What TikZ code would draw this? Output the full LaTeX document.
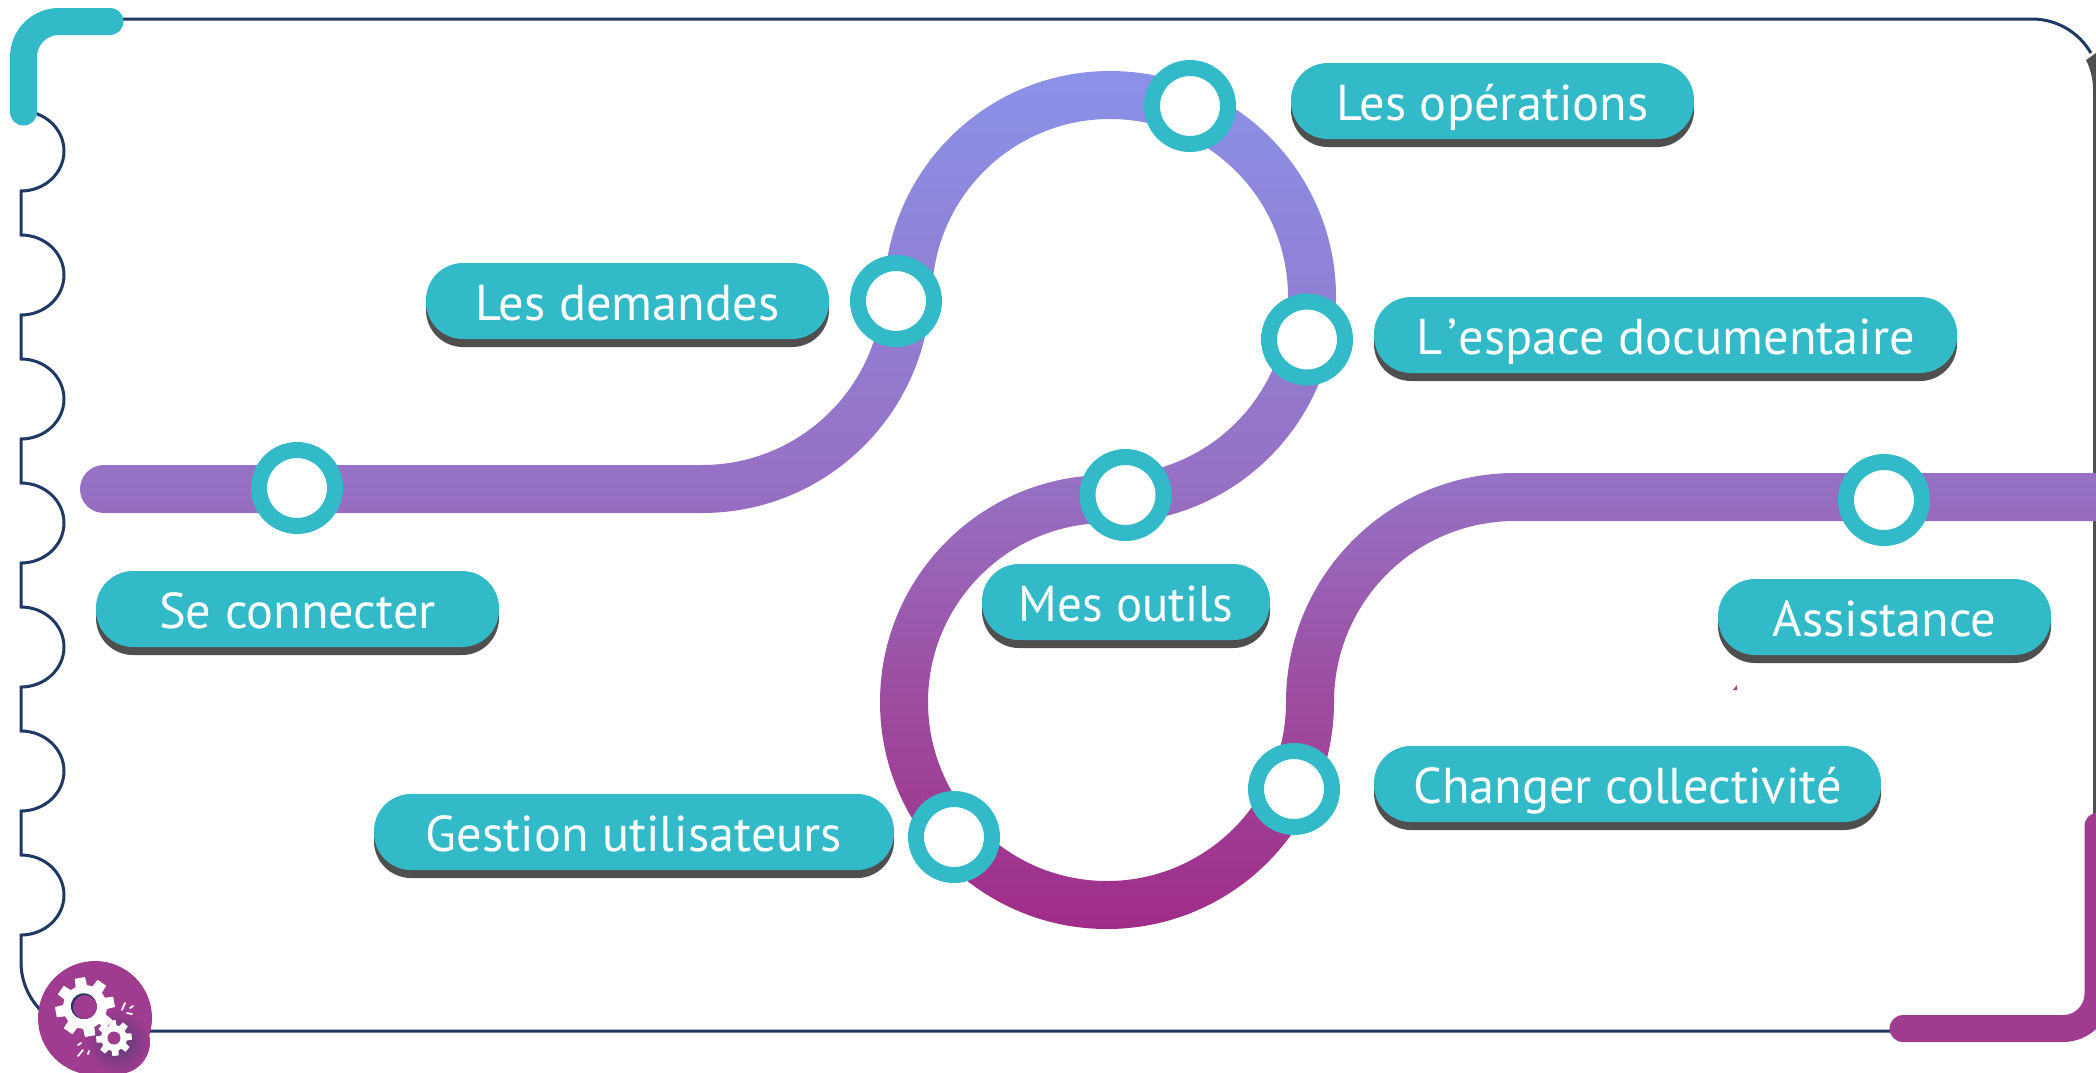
\documentclass[tikz,border=0pt]{standalone}
\usepackage{fontspec}
\setmainfont{PT Sans}
\usetikzlibrary{shadows,calc}
\definecolor{teal1}{HTML}{33BAC9}
\definecolor{shgray}{HTML}{4F4F4F}
\definecolor{navy1}{HTML}{1F3864}
\definecolor{plum1}{HTML}{9F3C8F}
\definecolor{gradT}{HTML}{8A92E8}
\definecolor{gradM}{HTML}{9670C3}
\definecolor{gradL}{HTML}{9D4CA0}
\definecolor{gradB}{HTML}{A02C88}
\pgfdeclareverticalshading{trackgrad}{100bp}{color(0bp)=(gradB); color(25bp)=(gradB); color(38.4bp)=(gradL); color(50.7bp)=(gradM); color(75bp)=(gradT); color(100bp)=(gradT)}
\tikzset{
  pill/.style={rectangle,rounded corners=18.5pt,fill=teal1,draw=none,minimum height=38pt,inner sep=0pt,
    text=white,font=\fontsize{25.2}{30}\selectfont,text height=24pt,text depth=5pt,
    copy shadow={shadow xshift=0pt,shadow yshift=-4pt,fill=shgray,draw=none,opacity=1}},
  stopmark/.style={circle,draw=teal1,line width=8pt,fill=white,minimum size=38pt,inner sep=0pt},
  frameline/.style={draw=navy1,line width=1.5pt},
  cornerbar/.style={line width=13.5pt,line cap=round},
  geartooth/.style={fill=white,draw=none}
}
\begin{document}
\begin{tikzpicture}[x=0.5pt,y=0.5pt]
\useasboundingbox (0,0) rectangle (2096,-1072);
\fill[white] (0,0) rectangle (2096,-1072);
% frame
\draw[frameline] (1900,-1031) -- (90,-1031) arc[start angle=270,end angle=180,radius=69] -- (21,-935)
  arc[start angle=-90,end angle=90,x radius=43,y radius=40] -- (21,-811)
  arc[start angle=-90,end angle=90,x radius=43,y radius=40] -- (21,-687)
  arc[start angle=-90,end angle=90,x radius=43,y radius=40] -- (21,-563)
  arc[start angle=-90,end angle=90,x radius=43,y radius=40] -- (21,-439)
  arc[start angle=-90,end angle=90,x radius=43,y radius=40] -- (21,-315)
  arc[start angle=-90,end angle=90,x radius=43,y radius=40] -- (21,-191)
  arc[start angle=-90,end angle=90,x radius=43,y radius=40];
\draw[frameline] (100,-19) -- (2032,-19) arc[start angle=90,end angle=30,radius=68];
\fill[shgray] (2086,-60) -- (2096,-53) -- (2096,-815) -- (2093,-815) -- (2093,-90) .. controls (2093,-78) and (2090,-68) .. (2086,-60) -- cycle;
% corner bars
\coordinate (tealA) at (23.5,-112);
\coordinate (tealB) at (23.5,-57);
\coordinate (tealC) at (110,-21.5);
\draw[cornerbar,teal1] (tealA) -- (tealB) arc[start angle=180,end angle=90,radius=35.5] -- (tealC);
\coordinate (plumA) at (1903,-1028.5);
\coordinate (plumB) at (2063,-1028.5);
\coordinate (plumC) at (2098,-826);
\draw[cornerbar,plum1] (plumA) -- (plumB) arc[start angle=-90,end angle=0,radius=35] -- (plumC);
% track
\shade[shading=trackgrad] (104,-465) -- (702,-465)
  arc[start angle=-90,end angle=0,radius=181] -- (884,-297)
  arc[start angle=180,end angle=-90,radius=226] -- (1107,-523)
  arc[start angle=90,end angle=360,radius=179]
  arc[start angle=180,end angle=90,radius=229] -- (2096,-473) -- (2096,-521) -- (1515,-521)
  arc[start angle=90,end angle=180,radius=181]
  arc[start angle=360,end angle=90,radius=227] -- (1110,-475)
  arc[start angle=-90,end angle=180,radius=178] -- (931,-284)
  arc[start angle=0,end angle=-90,radius=229] -- (104,-513)
  arc[start angle=270,end angle=90,radius=24] -- cycle;
% speck
\fill[plum1] (1733,-690) -- (1737,-685) -- (1737,-690) -- cycle;
% stops
\node[stopmark] (m1) at (297,-488) {};
\node[stopmark] (m2) at (896,-301) {};
\node[stopmark] (m3) at (1190,-106) {};
\node[stopmark] (m4) at (1307,-339.5) {};
\node[stopmark] (m5) at (1125.5,-495) {};
\node[stopmark] (m6) at (1884,-500) {};
\node[stopmark] (m7) at (1294,-789) {};
\node[stopmark] (m8) at (954,-837) {};
% labels
\node[pill,minimum width=201.5pt] (operations) at (1492.5,-101) {Les opérations};
\node[pill,minimum width=201.5pt] (demandes) at (627.5,-301) {Les demandes};
\node[pill,minimum width=291.5pt] (espace) at (1665.5,-335) {L\kern2.5pt’\kern1pt espace documentaire};
\node[pill,minimum width=201.5pt] (connecter) at (297.5,-609) {Se connecter};
\node[pill,minimum width=144pt] (outils) at (1126,-602) {\scalebox{0.97}[1]{Mes outils}};
\node[pill,minimum width=166.5pt] (assistance) at (1884.5,-617) {Assistance};
\node[pill,minimum width=253.5pt] (changer) at (1627.5,-784) {Changer collectivité};
\node[pill,minimum width=260pt] (gestion) at (634,-832) {Gestion utilisateurs};
% gear badge
\fill[plum1] (95,-1018) circle[radius=57];
\shade[inner color=navy1!55!plum1,outer color=plum1] (118,-1042) circle[radius=32];
\begin{scope}[shift={(85,-1007)},rotate=10]
  \fill[geartooth] (-15:22) \foreach \a in {0,45,...,315} { -- (\a-15:22) -- (\a-10:30) -- (\a+10:30) -- (\a+15:22) } -- cycle;
  \fill[navy1] (-1,1) circle[radius=13];
  \fill[plum1] (0,0) circle[radius=12];
\end{scope}
\begin{scope}[shift={(114,-1038)},rotate=5]
  \fill[geartooth] (-16:13) \foreach \a in {0,45,...,315} { -- (\a-16:13) -- (\a-10:18) -- (\a+10:18) -- (\a+16:13) } -- cycle;
  \fill[plum1] (0,0) circle[radius=6.5];
\end{scope}
\draw[white,line width=0.9pt,line cap=round] (122,-1010) -- (125,-1003) (130,-1008) -- (133,-1006) (127,-1013) -- (132,-1014)
  (78,-1056) -- (83,-1050) (88,-1054) -- (89,-1051) (78,-1045) -- (81,-1043);
\end{tikzpicture}
\end{document}
